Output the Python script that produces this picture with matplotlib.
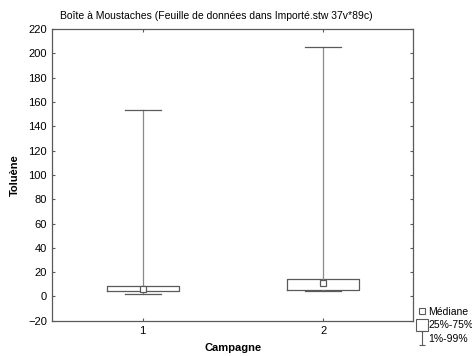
import matplotlib
matplotlib.use("Agg")
import matplotlib.pyplot as plt
from matplotlib.lines import Line2D
from matplotlib.path import Path

plt.rcParams['font.family'] = ['Liberation Sans', 'DejaVu Sans']

# Summary statistics per campaign
campagnes = ["1", "2"]
mediane = [6.5, 10.7]
q25 = [4.1, 5.2]
q75 = [8.2, 14.5]
p01 = [1.6, 4.6]
p99 = [153.5, 205.3]

yticks = list(range(-20, 221, 20))

fig = plt.figure(figsize=(4.72, 3.56), dpi=100)
ax = fig.add_axes([0.111, 0.099, 0.765, 0.8195])

line_col = "#5a5a5a"
stats = []
for i, c in enumerate(campagnes):
    stats.append(dict(label=c, med=mediane[i], q1=q25[i], q3=q75[i],
                      whislo=p01[i], whishi=p99[i], fliers=[]))

positions = list(range(1, len(campagnes) + 1))
ax.bxp(stats, positions=positions, widths=0.4, showfliers=False,
       boxprops=dict(color=line_col, linewidth=0.9),
       whiskerprops=dict(color="#8a8a8a", linewidth=0.9),
       capprops=dict(color=line_col, linewidth=0.9),
       medianprops=dict(linewidth=0),
       capwidths=0.2)
ax.plot(positions, mediane, linestyle="none", marker="s", markersize=4.5,
        markerfacecolor="white", markeredgecolor=line_col, markeredgewidth=0.9,
        zorder=5)

ax.set_xlim(0.5, 2.5)
ax.set_ylim(-20, 220)
ax.set_yticks(yticks)
ax.set_xticks(positions)
ax.set_xticklabels(campagnes)
ax.tick_params(direction="in", length=2.5, width=0.8, color=line_col,
               labelsize=8, top=True, right=True, pad=4)
for s in ax.spines.values():
    s.set_color(line_col)
    s.set_linewidth(0.9)

ax.set_xlabel("Campagne", fontsize=8, fontweight="bold", labelpad=5)
ax.set_ylabel("Toluène", fontsize=8, fontweight="bold", labelpad=6)
fig.text(0.127, 0.955, "Boîte à Moustaches (Feuille de données dans Importé.stw 37v*89c)",
         fontsize=7.5, ha="left", va="center")

# Legend entries
whisker_marker = Path([(-0.5, 1), (0.5, 1), (0, 1), (0, -1), (-0.5, -1), (0.5, -1)],
                      [Path.MOVETO, Path.LINETO, Path.MOVETO, Path.LINETO,
                       Path.MOVETO, Path.LINETO])
handles = [
    Line2D([], [], linestyle="none", marker="s", markersize=4,
           markerfacecolor="white", markeredgecolor=line_col, markeredgewidth=0.8),
    Line2D([], [], linestyle="none", marker="s", markersize=8,
           markerfacecolor="white", markeredgecolor=line_col, markeredgewidth=0.8),
    Line2D([], [], linestyle="none", marker=whisker_marker, markersize=10,
           markeredgecolor=line_col, markeredgewidth=0.8),
]
labels = ["Médiane", "25%-75%", "1%-99%"]
fig.legend(handles, labels, loc="upper left", bbox_to_anchor=(0.886, 0.138),
           frameon=False, fontsize=7.5, handlelength=0.75, handletextpad=0.2,
           labelspacing=0.32, borderpad=0.0, borderaxespad=0.0)

fig.savefig("out.png", dpi=100)
